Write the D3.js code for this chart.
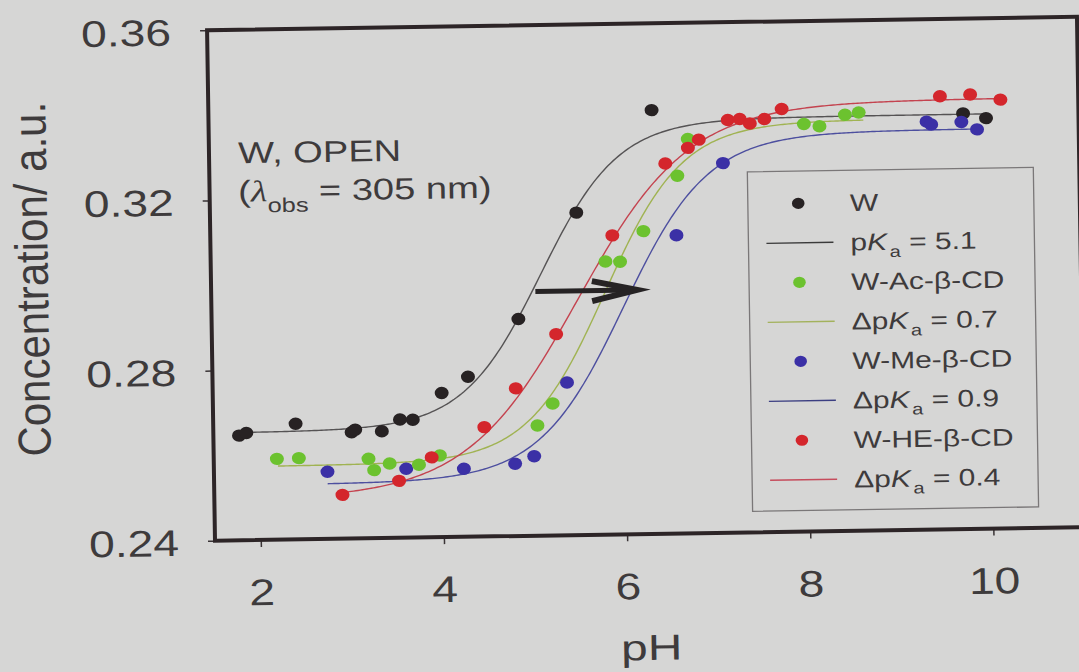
<!DOCTYPE html>
<html>
<head>
<meta charset="utf-8">
<script src="https://cdn.jsdelivr.net/npm/d3@7"></script>
<style>
  html, body { margin: 0; padding: 0; background: #d6d6d5; }
  svg { display: block; }
  text { font-family: "Liberation Sans", Arial, Helvetica, sans-serif; fill: #3e3b3c; }
</style>
</head>
<body>
<svg id="chart" width="1079" height="672"></svg>
<script>
// ---- Measured points: pH and concentration (a.u.) ----
const phW    = [1.78, 1.86, 2.40, 3.01, 3.05, 3.34, 3.54, 3.68, 4.00, 4.29, 4.85, 5.50, 6.34, 9.74, 9.99];
const concW  = [0.2646, 0.2652, 0.2672, 0.2650, 0.2656, 0.2651, 0.2678, 0.2677, 0.2739, 0.2776, 0.2910, 0.3158, 0.3396, 0.3377, 0.3365];

const phAc   = [2.19, 2.43, 3.19, 3.25, 3.42, 3.74, 3.97, 5.04, 5.21, 5.81, 5.97, 6.23, 6.61, 6.73, 8.00, 8.17, 8.45, 8.60];
const concAc = [0.2590, 0.2591, 0.2587, 0.2560, 0.2575, 0.2571, 0.2592, 0.2659, 0.2710, 0.3042, 0.3041, 0.3112, 0.3241, 0.3327, 0.3358, 0.3352, 0.3378, 0.3383];

const phMe   = [2.74, 3.60, 4.23, 4.79, 5.00, 5.37, 6.59, 7.11, 9.34, 9.39, 9.72, 9.89];
const concMe = [0.2558, 0.2562, 0.2560, 0.2570, 0.2587, 0.2759, 0.3101, 0.3269, 0.3359, 0.3352, 0.3357, 0.3339];

const phHE   = [2.90, 3.52, 3.88, 4.46, 4.81, 5.26, 5.89, 6.48, 6.73, 6.85, 7.17, 7.30, 7.41, 7.57, 7.76, 9.49, 9.82, 10.15];
const concHE = [0.2503, 0.2534, 0.2588, 0.2657, 0.2747, 0.2873, 0.3103, 0.3270, 0.3306, 0.3325, 0.3370, 0.3372, 0.3361, 0.3371, 0.3394, 0.3418, 0.3421, 0.3408];

// ---- Series order: W, W-Ac-β-CD, W-Me-β-CD, W-HE-β-CD ----
const seriesNames = ["W", "W-Ac-\u03B2-CD", "W-Me-\u03B2-CD", "W-HE-\u03B2-CD"];
const seriesPH    = [phW, phAc, phMe, phHE];
const seriesConc  = [concW, concAc, concMe, concHE];

// ---- Sigmoidal (Henderson–Hasselbalch) fits ----
const basePKa   = 5.1;
const deltaPKa  = [0, 0.7, 0.9, 0.4];
const pKa       = deltaPKa.map(d => basePKa + d);
const fitLow    = [0.2653, 0.2573, 0.2529, 0.2495];
const fitHigh   = [0.3375, 0.3366, 0.3340, 0.3411];
const fitSlope  = [1.0, 1.0, 0.92, 0.7];
const fitFrom   = [1.90, 2.20, 2.74, 2.95];
const fitTo     = [9.98, 8.65, 9.89, 10.18];

// ---- Axes ----
const xDomain = [1.5, 11];
const yDomain = [0.24, 0.36];
const xTicks  = [2, 4, 6, 8, 10];
const yTicks  = [0.24, 0.28, 0.32, 0.36];

// ---- Shift arrow (pH from, pH to, concentration) ----
const arrowPH   = [5.04, 6.15];
const arrowConc = 0.2974;

// ---- Styles ----
const dotColor  = ["#272223", "#6cc22f", "#3b30a6", "#d4262c"];
const lineColor = ["#555354", "#a0b352", "#4d4f9f", "#c4434f"];
const legLine   = ["#3a3a3a", "#a3b25c", "#3c3f82", "#c64c5c"];
const drawOrder = [0, 2, 1, 3];
const k = 1.25;           // horizontal glyph stretch

const W = 870, H = 510.5;
const originX = 215, originY = 540.7, tilt = -0.89;

const svg = d3.select("#chart");
svg.append("rect").attr("width", 1079).attr("height", 672).attr("fill", "#d6d6d5");

const g = svg.append("g")
  .attr("transform", `rotate(${tilt},${originX},${originY}) translate(${originX},${originY - H})`);

const x = d3.scaleLinear().domain(xDomain).range([0, W]);
const y = d3.scaleLinear().domain(yDomain).range([H, 0]);

// axes (ticks + labels), frame drawn separately
const yAxis = g.append("g")
  .call(d3.axisLeft(y).tickValues(yTicks).tickSize(7).tickFormat(d3.format(".2f")))
  .attr("font-family", null).attr("font-size", null);
const xAxis = g.append("g").attr("transform", `translate(0,${H})`)
  .call(d3.axisBottom(x).tickValues(xTicks).tickSize(7).tickFormat(d3.format("d")))
  .attr("font-family", null).attr("font-size", null);
[yAxis, xAxis].forEach(a => {
  a.select(".domain").remove();
  a.selectAll(".tick line").attr("stroke", "#3a3436").attr("stroke-width", 1.5);
});
yAxis.selectAll(".tick text")
  .attr("x", null).attr("dy", null)
  .attr("text-anchor", "end")
  .attr("font-size", 37)
  .attr("transform", `translate(-36,14.2) scale(${k},1)`)
  .style("fill", "#3e3b3c");
xAxis.selectAll(".tick text")
  .attr("y", null).attr("dy", null)
  .attr("text-anchor", "middle")
  .attr("font-size", 37)
  .attr("transform", `translate(0,65) scale(${k},1)`)
  .style("fill", "#3e3b3c");

// axis titles
g.append("text")
  .attr("text-anchor", "middle").attr("font-size", 36)
  .attr("transform", `translate(${W / 2},${H + 126}) scale(1.33,1)`)
  .text("pH");
g.append("text")
  .attr("text-anchor", "middle").attr("font-size", 42)
  .attr("transform", `translate(-163,${H - 264.3}) scale(1.1,1) rotate(-90)`)
  .text("Concentration/ a.u.");

// fit curves
const line = d3.line().x(d => x(d[0])).y(d => y(d[1]));
function fitValue(i, ph) {
  return fitLow[i] + (fitHigh[i] - fitLow[i]) / (1 + Math.pow(10, fitSlope[i] * (pKa[i] - ph)));
}
drawOrder.forEach(i => {
  const n = 300;
  const pts = d3.range(n + 1).map(j => {
    const ph = fitFrom[i] + (fitTo[i] - fitFrom[i]) * j / n;
    return [ph, fitValue(i, ph)];
  });
  g.append("path").attr("d", line(pts))
    .attr("fill", "none").attr("stroke", lineColor[i]).attr("stroke-width", 1.4);
});

// data points
drawOrder.forEach(i => {
  g.append("g").selectAll("ellipse")
    .data(seriesPH[i].map((p, j) => [p, seriesConc[i][j]]))
    .join("ellipse")
    .attr("cx", d => x(d[0])).attr("cy", d => y(d[1]))
    .attr("rx", 7).attr("ry", 6.2)
    .attr("fill", dotColor[i]);
});

// shift arrow
const ax0 = x(arrowPH[0]), ax1 = x(arrowPH[1]), ay = y(arrowConc);
g.append("line")
  .attr("x1", ax0).attr("y1", ay).attr("x2", ax1 - 4).attr("y2", ay)
  .attr("stroke", "#262324").attr("stroke-width", 5);
g.append("polyline")
  .attr("points", `${ax1 - 45},${ay - 9.5} ${ax1},${ay} ${ax1 - 45},${ay + 10.5}`)
  .attr("fill", "none").attr("stroke", "#262324").attr("stroke-width", 6)
  .attr("stroke-linejoin", "miter").attr("stroke-miterlimit", 10);

// plot frame
g.append("rect").attr("width", W).attr("height", H)
  .attr("fill", "none").attr("stroke", "#2d2527").attr("stroke-width", 4);

// annotation
g.append("text").attr("font-size", 30)
  .attr("transform", `translate(29.2,${H - 377}) scale(1.27,1)`)
  .text("W, OPEN");
const ann = g.append("text").attr("font-size", 30)
  .attr("transform", `translate(28.6,${H - 338.6}) scale(1.27,1)`);
ann.append("tspan").text("(");
ann.append("tspan").attr("font-style", "italic")
  .style("font-family", "'Liberation Serif', 'DejaVu Serif', serif").text("\u03BB");
ann.append("tspan").attr("font-size", 20).attr("dy", 11).text("obs");
ann.append("tspan").attr("dy", -11).text(" = 305 nm)");

// legend
const leg = g.append("g");
leg.append("rect")
  .attr("x", 538).attr("y", H - 360.5).attr("width", 286).attr("height", 339.5)
  .attr("fill", "none").attr("stroke", "#7a7778").attr("stroke-width", 1.3);
const rowY = r => H - 328.3 + 39.5 * r;
seriesNames.forEach((name, i) => {
  const yDot = rowY(2 * i), yLine = rowY(2 * i + 1);
  leg.append("ellipse").attr("cx", 588.4).attr("cy", yDot)
    .attr("rx", 6.3).attr("ry", 5.6).attr("fill", dotColor[i]);
  leg.append("text").attr("font-size", 24)
    .attr("transform", `translate(640,${yDot + 8.5}) scale(${k},1)`)
    .text(name);
  leg.append("line").attr("x1", 556).attr("x2", 623).attr("y1", yLine).attr("y2", yLine)
    .attr("stroke", legLine[i]).attr("stroke-width", 1.3);
  const t = leg.append("text").attr("font-size", 24)
    .attr("transform", `translate(640,${yLine + 8.5}) scale(${k},1)`);
  t.append("tspan").text(i === 0 ? "p" : "\u0394p");
  t.append("tspan").attr("font-style", "italic").text("K");
  t.append("tspan").attr("font-size", 16).attr("dx", 2).attr("dy", 7).text("a");
  t.append("tspan").attr("dy", -7)
    .text(" = " + d3.format(".1f")(i === 0 ? basePKa : deltaPKa[i]));
});
</script>
</body>
</html>
